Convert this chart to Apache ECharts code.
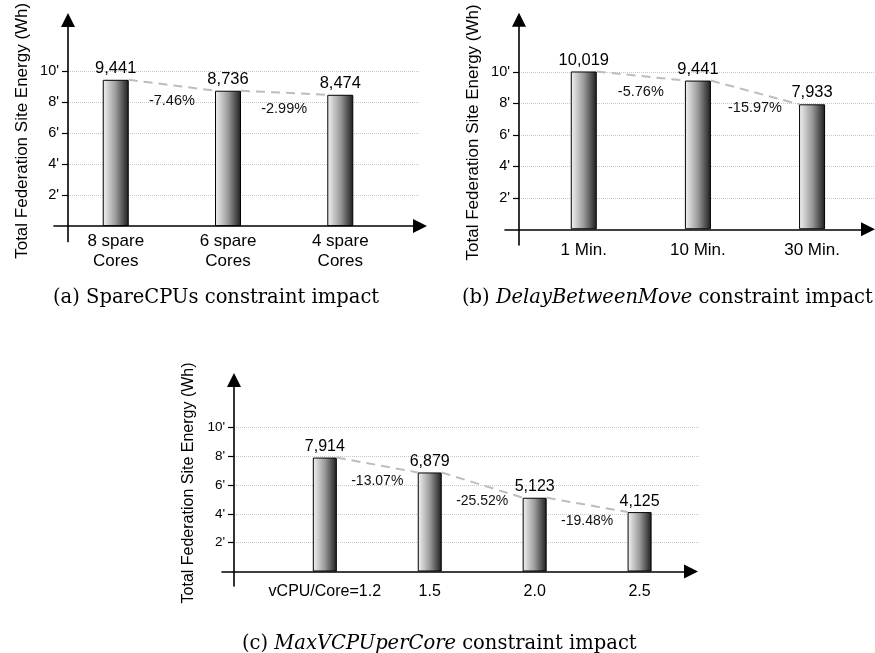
<!doctype html>
<html lang="en">
<head>
<meta charset="UTF-8">
<title>Constraint impact</title>
<style>
  html, body { margin: 0; padding: 0; background: #fff; }
  #main { width: 875px; height: 653px; }
</style>
</head>
<body>
<div id="main"></div>
<script src="https://cdn.jsdelivr.net/npm/echarts@6/dist/echarts.min.js"></script>
<script type="text/javascript">
// data
var catsA = ['8 spare\nCores', '6 spare\nCores', '4 spare\nCores'];
var valsA = [9441, 8736, 8474];
var pctA = ['-7.46%', '-2.99%'];

var catsB = ['1 Min.', '10 Min.', '30 Min.'];
var valsB = [10019, 9441, 7933];
var pctB = ['-5.76%', '-15.97%'];

var catsC = ['vCPU/Core=1.2', '1.5', '2.0', '2.5'];
var valsC = [7914, 6879, 5123, 4125];
var pctC = ['-13.07%', '-25.52%', '-19.48%'];

var yTicks = [2000, 4000, 6000, 8000, 10000];
var yName = 'Total Federation Site Energy (Wh)';

var FONT = '"Liberation Sans", Arial, sans-serif';
var SERIF = '"DejaVu Serif", "Liberation Serif", serif';

function fmt(v) {
    return String(v).replace(/\B(?=(\d{3})+(?!\d))/g, ',');
}

// [index, value] pairs for bars, [i, v_i, i+1, v_i+1] for connectors
function barData(vals) {
    return vals.map(function (v, i) { return [i, v]; });
}
function pairData(vals) {
    var out = [];
    for (var i = 0; i < vals.length - 1; i++) out.push([i, vals[i], i + 1, vals[i + 1]]);
    return out;
}

// split line colours for ticks 0,2000,...,12000,13300
var gridColors = [];
for (var t = 0; t <= 13300; t += 2000) gridColors.push(yTicks.indexOf(t) >= 0 ? '#c8c8c8' : 'rgba(0,0,0,0)');
gridColors.push('rgba(0,0,0,0)');

var barGrad = {
    type: 'linear', x: 0, y: 0, x2: 1, y2: 0,
    colorStops: [{ offset: 0, color: '#f4f4f4' }, { offset: 0.5, color: '#9a9a9a' }, { offset: 1, color: '#1c1c1c' }]
};

function connector(bw, pcts, fs) {
    return function (params, api) {
        var a = api.coord([api.value(0), api.value(1)]);
        var b = api.coord([api.value(2), api.value(3)]);
        var x1 = a[0] + bw / 2, y1 = a[1], x2 = b[0] - bw / 2, y2 = b[1];
        return {
            type: 'group',
            children: [
                { type: 'line', shape: { x1: x1, y1: y1, x2: x2, y2: y2 },
                  style: { stroke: '#bdbdbd', lineWidth: 2, lineDash: [9, 6] } },
                { type: 'text', x: (x1 + x2) / 2, y: (y1 + y2) / 2 + 16,
                  style: { text: pcts[params.dataIndex], fill: '#111', fontSize: fs, fontFamily: FONT,
                           align: 'center', verticalAlign: 'middle' } }
            ]
        };
    };
}

var myChart = echarts.init(document.getElementById('main'));

function xAxisCfg(g, cats, min, max, fs, margin) {
    return {
        gridIndex: g, type: 'value', min: min, max: max,
        splitLine: { show: false }, axisTick: { show: false },
        axisLine: { onZero: true, symbol: ['none', 'triangle'], symbolSize: [14, 14],
                    lineStyle: { color: '#000', width: 1.6 } },
        axisLabel: { customValues: cats.map(function (c, i) { return i; }),
                     formatter: function (v) { return cats[Math.round(v)]; },
                     fontSize: fs, fontFamily: FONT, color: '#000', margin: margin, lineHeight: 20 }
    };
}
function yAxisCfg(g, off, fs, nfs, gap) {
    return {
        gridIndex: g, type: 'value', min: -1000, max: 13300, interval: 1000, offset: off,
        axisLine: { show: true, onZero: false, symbol: ['none', 'triangle'], symbolSize: [14, 14],
                    lineStyle: { color: '#000', width: 1.6 } },
        axisTick: { show: true, customValues: yTicks, length: 6, lineStyle: { color: '#000', width: 1.2 } },
        axisLabel: { customValues: yTicks, formatter: function (v) { return (v / 1000) + "'"; },
                     fontSize: fs, fontFamily: FONT, color: '#000', margin: 9 },
        splitLine: { show: false },
        name: yName, nameLocation: 'middle', nameGap: gap,
        nameTextStyle: { fontSize: nfs, fontFamily: FONT, color: '#000' }
    };
}
// helper grid/axes that only carry the dotted grid lines
function gridXCfg(g) {
    return { gridIndex: g, type: 'value', show: false, min: 0, max: 1 };
}
function gridYCfg(g) {
    return {
        gridIndex: g, type: 'value', min: 0, max: 13300, interval: 2000,
        axisLine: { show: false }, axisTick: { show: false }, axisLabel: { show: false },
        splitLine: { show: true, lineStyle: { type: 'dotted', color: gridColors, width: 1 } }
    };
}

var capStyle = { fontSize: 19.5, fontFamily: SERIF, fill: '#000', align: 'left', verticalAlign: 'middle' };
function caption(x, y, text) {
    return {
        type: 'text', x: x, y: y,
        style: Object.assign({ text: text,
            rich: { i: { fontStyle: 'italic', fontSize: 19.5, fontFamily: SERIF, fill: '#000' } } }, capStyle)
    };
}

var option = {
    animation: false,
    grid: [
        { left: 54, top: 20, width: 366, height: 221.6 },
        { left: 505, top: 19.8, width: 363, height: 225.2 },
        { left: 222, top: 380, width: 469, height: 205.9 },
        { left: 68, top: 20, width: 352, height: 206 },
        { left: 519, top: 19.8, width: 356, height: 209.5 },
        { left: 234, top: 380, width: 466, height: 191.5 }
    ],
    xAxis: [
        xAxisCfg(0, catsA, -0.55, 2.71, 17, -10),
        xAxisCfg(1, catsB, -0.69, 2.49, 17, -5),
        xAxisCfg(2, catsC, -0.98, 3.49, 16, -4),
        gridXCfg(3), gridXCfg(4), gridXCfg(5)
    ],
    yAxis: [
        yAxisCfg(0, -14, 14.5, 17, 37),
        yAxisCfg(1, -14, 14.5, 17, 37),
        yAxisCfg(2, -12, 13.5, 16, 31),
        gridYCfg(3), gridYCfg(4), gridYCfg(5)
    ],
    series: [
        { type: 'bar', xAxisIndex: 0, yAxisIndex: 0, data: barData(valsA), barWidth: 26, z: 3,
          itemStyle: { color: barGrad, borderColor: '#000', borderWidth: 1 },
          label: { show: true, position: 'top', distance: 3, fontSize: 16.5, fontFamily: FONT, color: '#000',
                   formatter: function (p) { return fmt(p.value[1]); } } },
        { type: 'bar', xAxisIndex: 1, yAxisIndex: 1, data: barData(valsB), barWidth: 26, z: 3,
          itemStyle: { color: barGrad, borderColor: '#000', borderWidth: 1 },
          label: { show: true, position: 'top', distance: 3, fontSize: 16.5, fontFamily: FONT, color: '#000',
                   formatter: function (p) { return fmt(p.value[1]); } } },
        { type: 'bar', xAxisIndex: 2, yAxisIndex: 2, data: barData(valsC), barWidth: 24, z: 3,
          itemStyle: { color: barGrad, borderColor: '#000', borderWidth: 1 },
          label: { show: true, position: 'top', distance: 3, fontSize: 16, fontFamily: FONT, color: '#000',
                   formatter: function (p) { return fmt(p.value[1]); } } },
        { type: 'custom', xAxisIndex: 0, yAxisIndex: 0, data: pairData(valsA), z: 4,
          encode: { x: [0, 2], y: [1, 3] }, renderItem: connector(26, pctA, 14.5) },
        { type: 'custom', xAxisIndex: 1, yAxisIndex: 1, data: pairData(valsB), z: 4,
          encode: { x: [0, 2], y: [1, 3] }, renderItem: connector(26, pctB, 14.5) },
        { type: 'custom', xAxisIndex: 2, yAxisIndex: 2, data: pairData(valsC), z: 4,
          encode: { x: [0, 2], y: [1, 3] }, renderItem: connector(24, pctC, 14) }
    ],
    graphic: [
        caption(53, 298, '(a) SpareCPUs constraint impact'),
        caption(462, 298, '(b) {i|DelayBetweenMove} constraint impact'),
        caption(242, 644, '(c) {i|MaxVCPUperCore} constraint impact')
    ]
};

myChart.setOption(option);
</script>
</body>
</html>
